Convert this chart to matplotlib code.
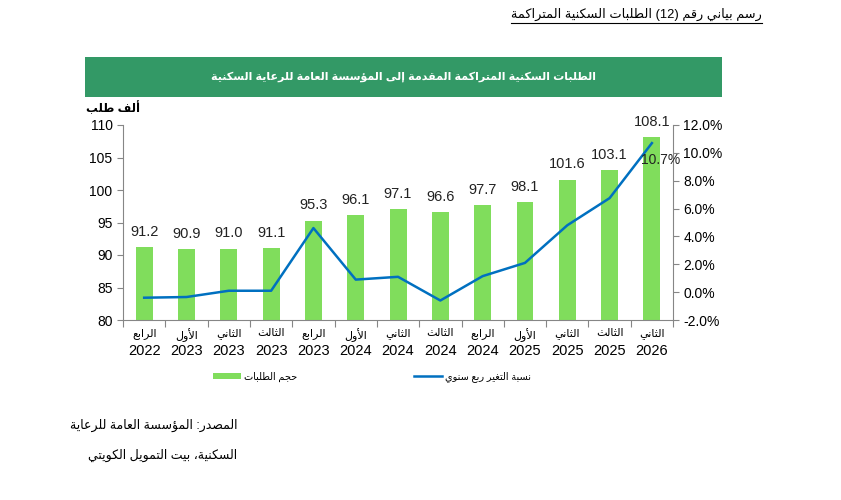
import re
import numpy as np
import matplotlib
matplotlib.use("Agg")
import matplotlib.pyplot as plt
from matplotlib.patches import Rectangle
from matplotlib.lines import Line2D
from matplotlib.ticker import FuncFormatter

plt.rcParams['font.family'] = ['Liberation Sans', 'DejaVu Sans']

# --- data ---
quarters = ['الرابع', 'الأول', 'الثاني', 'الثالث', 'الرابع', 'الأول', 'الثاني',
            'الثالث', 'الرابع', 'الأول', 'الثاني', 'الثالث', 'الثاني']
years = ['2022', '2023', '2023', '2023', '2023', '2024', '2024',
         '2024', '2024', '2025', '2025', '2025', '2026']
requests = [91.2, 90.9, 91.0, 91.1, 95.3, 96.1, 97.1, 96.6, 97.7, 98.1, 101.6, 103.1, 108.1]
yoy_change = [-0.4, -0.35, 0.1, 0.1, 4.6, 0.9, 1.1, -0.6, 1.15, 2.1, 4.8, 6.75, 10.7]

fig_title = 'رسم بياني رقم (12) الطلبات السكنية المتراكمة'
banner = 'الطلبات السكنية المتراكمة المقدمة إلى المؤسسة العامة للرعاية السكنية'
unit_label = 'ألف طلب'
legend_bar = 'حجم الطلبات'
legend_line = 'نسبة التغير ربع سنوي'
source_1 = 'المصدر: المؤسسة العامة للرعاية'
source_2 = 'السكنية، بيت التمويل الكويتي'

BAR_GREEN = '#80dd5c'
LINE_BLUE = '#0070c0'
BANNER_GREEN = '#339966'
SPINE = '#868686'

# --- small arabic shaper (matplotlib has no bidi / joining) ---
AR_FORMS = {
    'ء': (0xFE80, 1), 'آ': (0xFE81, 2), 'أ': (0xFE83, 2), 'ؤ': (0xFE85, 2), 'إ': (0xFE87, 2),
    'ئ': (0xFE89, 4), 'ا': (0xFE8D, 2), 'ب': (0xFE8F, 4), 'ة': (0xFE93, 2), 'ت': (0xFE95, 4),
    'ث': (0xFE99, 4), 'ج': (0xFE9D, 4), 'ح': (0xFEA1, 4), 'خ': (0xFEA5, 4), 'د': (0xFEA9, 2),
    'ذ': (0xFEAB, 2), 'ر': (0xFEAD, 2), 'ز': (0xFEAF, 2), 'س': (0xFEB1, 4), 'ش': (0xFEB5, 4),
    'ص': (0xFEB9, 4), 'ض': (0xFEBD, 4), 'ط': (0xFEC1, 4), 'ظ': (0xFEC5, 4), 'ع': (0xFEC9, 4),
    'غ': (0xFECD, 4), 'ف': (0xFED1, 4), 'ق': (0xFED5, 4), 'ك': (0xFED9, 4), 'ل': (0xFEDD, 4),
    'م': (0xFEE1, 4), 'ن': (0xFEE5, 4), 'ه': (0xFEE9, 4), 'و': (0xFEED, 2), 'ى': (0xFEEF, 2),
    'ي': (0xFEF1, 4),
}
LAM_ALEF = {'آ': 0xFEF5, 'أ': 0xFEF7, 'إ': 0xFEF9, 'ا': 0xFEFB}


def info(c):
    if isinstance(c, tuple):
        return True, False
    if c in AR_FORMS:
        return True, AR_FORMS[c][1] == 4
    return False, False


def ar(s):
    chars = []
    i = 0
    while i < len(s):
        if s[i] == 'ل' and i + 1 < len(s) and s[i + 1] in LAM_ALEF:
            chars.append(('LA', s[i + 1]))
            i += 2
        else:
            chars.append(s[i])
            i += 1
    out = []
    for k, c in enumerate(chars):
        prev_dual = k > 0 and info(chars[k - 1])[1]
        next_ar = k + 1 < len(chars) and info(chars[k + 1])[0]
        if isinstance(c, tuple):
            out.append(chr(LAM_ALEF[c[1]] + (1 if prev_dual else 0)))
        elif c in AR_FORMS:
            base, n = AR_FORMS[c]
            if n == 1:
                out.append(chr(base))
            elif n == 2:
                out.append(chr(base + (1 if prev_dual else 0)))
            else:
                if prev_dual and next_ar:
                    off = 3
                elif prev_dual:
                    off = 1
                elif next_ar:
                    off = 2
                else:
                    off = 0
                out.append(chr(base + off))
        else:
            out.append(c)
    vis = ''.join(out)[::-1]
    vis = re.sub(r'[0-9A-Za-z.%]+', lambda m: m.group(0)[::-1], vis)
    return vis.translate(str.maketrans('()', ')('))


# --- figure ---
fig = plt.figure(figsize=(8.41, 5.0), dpi=100)
fig.patch.set_facecolor('white')

ax = fig.add_axes([0.1463, 0.36, 0.654, 0.39])
x = np.arange(len(requests))

bars = ax.bar(x, requests, width=0.4, color=BAR_GREEN, zorder=2, label=ar(legend_bar))
ax.set_ylim(80, 110)
ax.set_yticks(np.arange(80, 111, 5))
ax.set_xlim(-0.5, len(requests) - 0.5)
for xi, v in zip(x, requests):
    ax.annotate(f'{v:.1f}', (xi, v), xytext=(0, 6), textcoords='offset points',
                ha='center', va='bottom', fontsize=10.5, color='#222222')

# x ticks: boundary marks + two label rows
ax.set_xticks(np.arange(-0.5, len(requests), 1.0))
ax.tick_params(axis='x', which='major', length=5, color=SPINE, labelbottom=False)
ax.set_xticks(x, minor=True)
ax.xaxis.remove_overlapping_locs = False
ax.set_xticklabels([ar(q) for q in quarters], minor=True, fontsize=8)
ax.tick_params(axis='x', which='minor', length=0, pad=6)

sec = ax.secondary_xaxis('bottom')
sec.set_xticks(x)
sec.set_xticklabels(years, fontsize=10.5)
sec.tick_params(length=0, pad=17)
sec.spines['bottom'].set_visible(False)

ax.tick_params(axis='y', length=4, color=SPINE, labelsize=10)
for side in ['top', 'right']:
    ax.spines[side].set_visible(False)
for side in ['left', 'bottom']:
    ax.spines[side].set_color(SPINE)

ax2 = ax.twinx()
ln, = ax2.plot(x, yoy_change, color=LINE_BLUE, lw=1.8, zorder=3, label=ar(legend_line))
ax2.set_ylim(-2, 12)
ax2.set_yticks(np.arange(-2, 12.1, 2))
ax2.yaxis.set_major_formatter(FuncFormatter(lambda v, p: f'{v:.1f}%'))
ax2.tick_params(axis='y', length=4, color=SPINE, labelsize=10)
for side in ['top', 'left', 'bottom']:
    ax2.spines[side].set_visible(False)
ax2.spines['right'].set_color(SPINE)
ax2.annotate(f'{yoy_change[-1]:.1f}%', (x[-1], yoy_change[-1]), xytext=(6, -7),
             textcoords='offset points', ha='center', va='top', fontsize=10, color='#222222')

# legend
fig.legend(handles=[bars, ln], loc='center left', bbox_to_anchor=(0.243, 0.246),
           ncol=2, frameon=False, fontsize=7, handlelength=2.9, handleheight=0.55,
           columnspacing=12.0, handletextpad=0.3)

# green banner
fig.patches.append(Rectangle((0.101, 0.806), 0.7575, 0.08, transform=fig.transFigure,
                             facecolor=BANNER_GREEN, edgecolor='none', zorder=0))
fig.text(0.48, 0.846, ar(banner), color='white', fontsize=8, fontweight='bold',
         ha='center', va='center')

fig.text(0.166, 0.784, ar(unit_label), fontsize=8.5, fontweight='bold', ha='right', va='center')

# top title with underline
t = fig.text(0.906, 0.972, ar(fig_title), fontsize=9.3, ha='right', va='center')
fig.canvas.draw()
bb = t.get_window_extent(fig.canvas.get_renderer()).transformed(fig.transFigure.inverted())
fig.add_artist(Line2D([bb.x0, bb.x1], [bb.y0 - 0.004, bb.y0 - 0.004], color='black',
                      lw=0.8, transform=fig.transFigure))

# source
fig.text(0.282, 0.15, ar(source_1), fontsize=9, ha='right', va='center')
fig.text(0.282, 0.09, ar(source_2), fontsize=9, ha='right', va='center')

fig.savefig('out.png', dpi=100)
